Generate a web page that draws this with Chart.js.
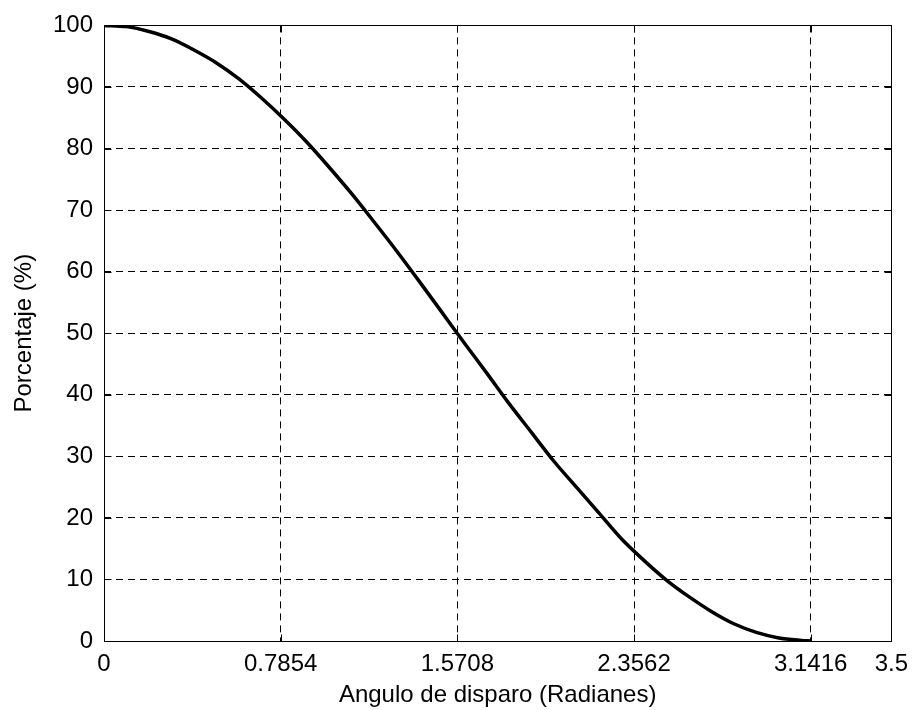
<!DOCTYPE html>
<html>
<head>
<meta charset="utf-8">
<script src="https://cdn.jsdelivr.net/npm/chart.js@4.4.0/dist/chart.umd.min.js"></script>
<style>
  html, body { margin: 0; padding: 0; background: #fff; }
  #wrap { width: 917px; height: 710px; }
</style>
</head>
<body>
<div id="wrap"><canvas id="angleChart" width="917" height="710"></canvas></div>
<script>
// Angulo de disparo (rad) et pourcentage
const angles = [0, 0.1, 0.2, 0.3, 0.4, 0.5, 0.6, 0.7, 0.8, 0.9, 1.0, 1.1, 1.2, 1.3, 1.4, 1.5,
    1.6, 1.7, 1.8, 1.9, 2.0, 2.1, 2.2, 2.3, 2.4, 2.5, 2.6, 2.7, 2.8, 2.9, 3.0, 3.1, 3.1416];
const percent = [100, 99.8, 99.0, 97.8, 96.0, 93.9, 91.3, 88.2, 84.8, 81.1, 77.0, 72.7, 68.1, 63.4, 58.5, 53.5,
    48.5, 43.6, 38.6, 33.9, 29.2, 25.0, 20.8, 16.6, 13.1, 9.9, 7.2, 4.8, 2.8, 1.4, 0.5, 0.1, 0];

// Graduations
const xTicks = [0, 0.7854, 1.5708, 2.3562, 3.1416, 3.5];
const yTicks = [0, 10, 20, 30, 40, 50, 60, 70, 80, 90, 100];

const FONT = "'Liberation Sans', Arial, sans-serif";
const TICK_LEN = 7;

// Cadre noir + petites graduations vers l'intérieur (style MATLAB)
const boxPlugin = {
    id: 'box',
    afterDatasetsDraw(chart) {
        const a = chart.chartArea;
        const c = chart.ctx;
        const left = Math.round(a.left) + 0.5;
        const top = Math.round(a.top) + 0.5;
        const right = Math.round(a.right) + 0.5;
        const bottom = Math.round(a.bottom) + 0.5;
        c.save();
        c.strokeStyle = '#000';
        c.lineWidth = 1;
        c.beginPath();
        xTicks.forEach(v => {
            const px = Math.round(chart.scales.x.getPixelForValue(v)) + 0.5;
            c.moveTo(px, bottom); c.lineTo(px, bottom - TICK_LEN);
            c.moveTo(px, top); c.lineTo(px, top + TICK_LEN);
        });
        yTicks.forEach(v => {
            const py = Math.round(chart.scales.y.getPixelForValue(v)) + 0.5;
            c.moveTo(left, py); c.lineTo(left + TICK_LEN, py);
            c.moveTo(right, py); c.lineTo(right - TICK_LEN, py);
        });
        c.stroke();
        c.strokeRect(left, top, right - left, bottom - top);
        c.restore();
    }
};

function gridColor(ctx, count) {
    return (ctx.index === 0 || ctx.index === count - 1) ? 'rgba(0,0,0,0)' : '#000';
}

const canvas = document.getElementById('angleChart');
const ctx = canvas.getContext('2d');
new Chart(ctx, {
    type: 'line',
    data: {
        datasets: [{
            data: angles.map((a, i) => ({ x: a, y: percent[i] })),
            borderColor: '#000',
            borderWidth: 3.5,
            pointRadius: 0,
            fill: false,
            cubicInterpolationMode: 'monotone'
        }]
    },
    options: {
        responsive: false,
        animation: false,
        layout: { padding: { left: 0, right: 21, top: 22, bottom: 0 } },
        plugins: { legend: { display: false }, tooltip: { enabled: false } },
        scales: {
            x: {
                type: 'linear',
                min: 0,
                max: 3.5,
                afterBuildTicks: (scale) => { scale.ticks = xTicks.map(v => ({ value: v })); },
                afterFit: (scale) => { scale.height = 69; },
                ticks: {
                    color: '#000',
                    font: { family: FONT, size: 24 },
                    padding: 9,
                    maxRotation: 0,
                    autoSkip: false,
                    callback: (v) => String(v)
                },
                grid: {
                    color: (c) => gridColor(c, xTicks.length),
                    lineWidth: 1,
                    drawTicks: false
                },
                border: { display: false, dash: [7, 5] },
                title: {
                    display: true,
                    text: 'Angulo de disparo (Radianes)',
                    color: '#000',
                    font: { family: FONT, size: 24 },
                    padding: { top: 0, bottom: 0 }
                }
            },
            y: {
                min: 0,
                max: 100,
                afterBuildTicks: (scale) => { scale.ticks = yTicks.map(v => ({ value: v })); },
                afterFit: (scale) => { scale.width = 104; },
                ticks: {
                    color: '#000',
                    font: { family: FONT, size: 24 },
                    padding: 11,
                    autoSkip: false
                },
                grid: {
                    color: (c) => gridColor(c, yTicks.length),
                    lineWidth: 1,
                    drawTicks: false
                },
                border: { display: false, dash: [7, 5] },
                title: {
                    display: true,
                    text: 'Porcentaje (%)',
                    color: '#000',
                    font: { family: FONT, size: 24 },
                    padding: { top: 10, bottom: 0 }
                }
            }
        }
    },
    plugins: [boxPlugin]
});
</script>
</body>
</html>
